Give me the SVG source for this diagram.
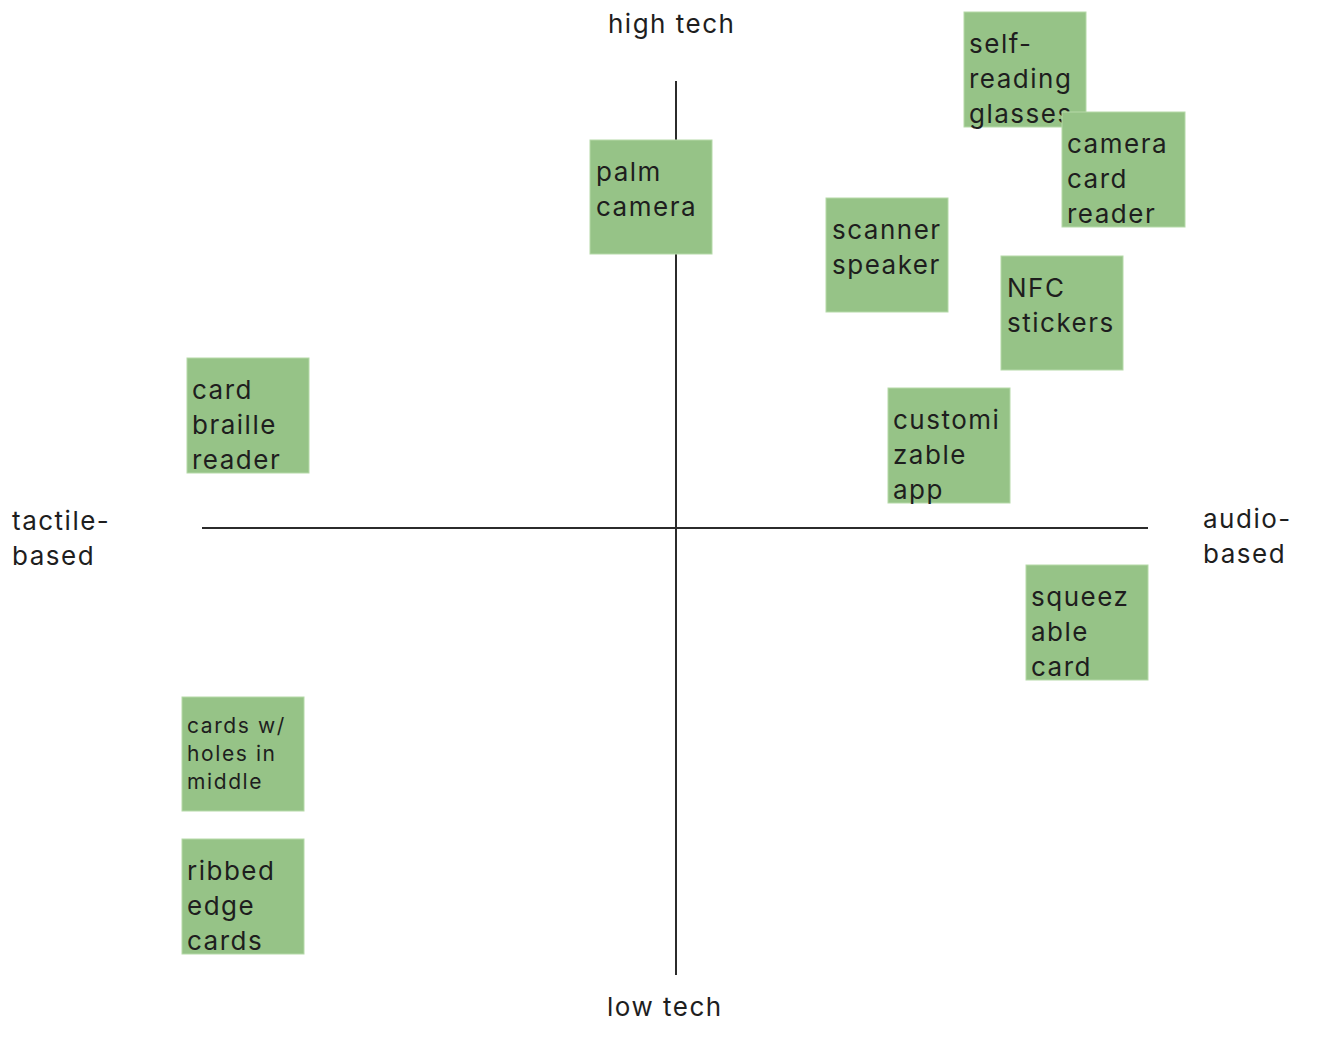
<svg xmlns="http://www.w3.org/2000/svg" width="1340" height="1061" viewBox="0 0 1340 1061">
<style>
.note{fill:#96c387;stroke:#b5d9a8;stroke-width:1}
.t{font-family:Inter,"Liberation Sans",sans-serif;font-size:26px;fill:#1e1e1e;letter-spacing:1.5px}
.s{font-size:21px;letter-spacing:1.6px}
.ax{stroke:#2b2b2b;stroke-width:2}
</style>
<rect width="1340" height="1061" fill="#fff"/>
<g id="axes">
<line class="ax" x1="676" y1="81" x2="676" y2="975"/>
<line class="ax" x1="202" y1="528" x2="1148" y2="528"/>
</g>
<g id="labels">
<text class="t" x="608" y="33">high tech</text>
<text class="t" x="607" y="1016">low tech</text>
<text class="t" x="12" y="530">tactile-<tspan x="12" dy="35">based</tspan></text>
<text class="t" x="1203" y="528">audio-<tspan x="1203" dy="35">based</tspan></text>
</g>
<g id="self-reading-glasses">
<rect class="note" x="964" y="12" width="122" height="115"/>
<text class="t" x="969" y="53">self-<tspan x="969" dy="35">reading</tspan><tspan x="969" dy="35">glasses</tspan></text>
</g>
<g id="camera-card-reader">
<rect class="note" x="1062" y="112" width="123" height="115"/>
<text class="t" x="1067" y="153">camera<tspan x="1067" dy="35">card</tspan><tspan x="1067" dy="35">reader</tspan></text>
</g>
<g id="palm-camera">
<rect class="note" x="590" y="140" width="122" height="114"/>
<text class="t" x="596" y="181">palm<tspan x="596" dy="35">camera</tspan></text>
</g>
<g id="scanner-speaker">
<rect class="note" x="826" y="198" width="122" height="114"/>
<text class="t" x="832" y="239">scanner<tspan x="832" dy="35">speaker</tspan></text>
</g>
<g id="nfc-stickers">
<rect class="note" x="1001" y="256" width="122" height="114"/>
<text class="t" x="1007" y="297">NFC<tspan x="1007" dy="35">stickers</tspan></text>
</g>
<g id="card-braille-reader">
<rect class="note" x="187" y="358" width="122" height="115"/>
<text class="t" x="192" y="399">card<tspan x="192" dy="35">braille</tspan><tspan x="192" dy="35">reader</tspan></text>
</g>
<g id="customizable-app">
<rect class="note" x="888" y="388" width="122" height="115"/>
<text class="t" x="893" y="429">customi<tspan x="893" dy="35">zable</tspan><tspan x="893" dy="35">app</tspan></text>
</g>
<g id="squeezable-card">
<rect class="note" x="1026" y="565" width="122" height="115"/>
<text class="t" x="1031" y="606">squeez<tspan x="1031" dy="35">able</tspan><tspan x="1031" dy="35">card</tspan></text>
</g>
<g id="cards-holes">
<rect class="note" x="182" y="697" width="122" height="114"/>
<text class="t s" x="187" y="733">cards w/<tspan x="187" dy="28">holes in</tspan><tspan x="187" dy="28">middle</tspan></text>
</g>
<g id="ribbed-edge-cards">
<rect class="note" x="182" y="839" width="122" height="115"/>
<text class="t" x="187" y="880">ribbed<tspan x="187" dy="35">edge</tspan><tspan x="187" dy="35">cards</tspan></text>
</g>
</svg>
